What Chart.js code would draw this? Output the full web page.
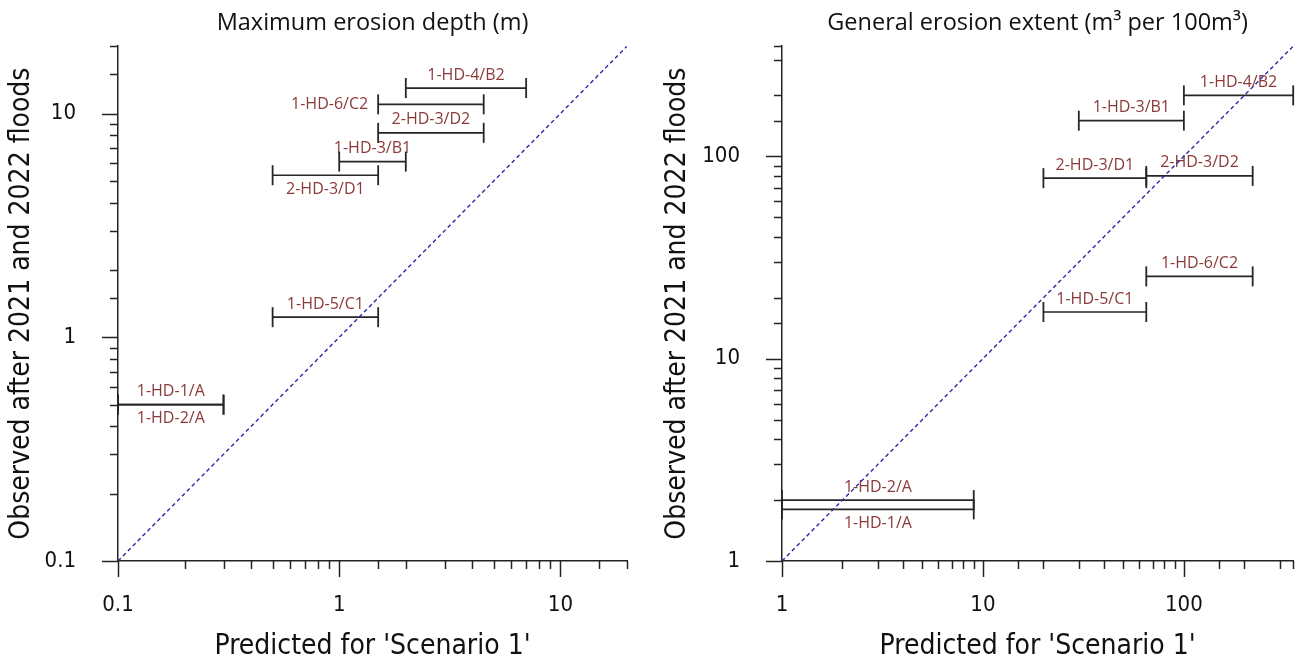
<!DOCTYPE html>
<html>
<head>
<meta charset="utf-8">
<script src="https://cdn.jsdelivr.net/npm/chart.js@4.4.1/dist/chart.umd.min.js"></script>
<style>
    body { margin: 0; background: #fff; width: 1295px; height: 662px; overflow: hidden; position: relative; }
    .panel { position: absolute; top: 0; height: 662px; }
    #leftPanel { left: 0; width: 648px; }
    #rightPanel { left: 648px; width: 657px; }
</style>
</head>
<body>
<div class="panel" id="leftPanel"><canvas id="depthChart"></canvas></div>
<div class="panel" id="rightPanel"><canvas id="extentChart"></canvas></div>
<script>
// Maximum erosion depth (m)
const depthSites = ['1-HD-4/B2', '1-HD-6/C2', '2-HD-3/D2', '1-HD-3/B1', '2-HD-3/D1', '1-HD-5/C1', '1-HD-1/A', '1-HD-2/A'];
const depthPredLow = [2, 1.5, 1.5, 1, 0.5, 0.5, 0.1, 0.1];
const depthPredHigh = [7, 4.5, 4.5, 2, 1.5, 1.5, 0.3, 0.3];
const depthObserved = [13, 11, 8.2, 6.1, 5.3, 1.23, 0.5, 0.5];
const depthRange = [0.1, 20];
const depthTickLabels = [0.1, 1, 10];

// General erosion extent (m3 per 100m3)
const extentSites = ['1-HD-4/B2', '1-HD-3/B1', '2-HD-3/D1', '2-HD-3/D2', '1-HD-6/C2', '1-HD-5/C1', '1-HD-2/A', '1-HD-1/A'];
const extentPredLow = [100, 30, 20, 65, 65, 20, 1, 1];
const extentPredHigh = [350, 100, 65, 220, 220, 65, 9, 9];
const extentObserved = [200, 150, 78, 80, 25.5, 17, 2, 1.8];
const extentRange = [1, 350];
const extentTickLabels = [1, 10, 100];

// where each site label sits relative to its bar (default: above)
const depthLabelSide = { '1-HD-6/C2': 'left', '2-HD-3/D1': 'below', '1-HD-2/A': 'below' };
const extentLabelSide = { '1-HD-1/A': 'below' };

const axisFont = "'DejaVu Sans Condensed', 'DejaVu Sans', sans-serif";
const textFont = "'Open Sans', sans-serif";
const labelColor = '#8b3a3a';
const barColor = '#262626';

// site labels, drawn before the datasets so the diagonal sits on top
const siteLabels = {
    id: 'siteLabels',
    beforeDatasetsDraw(chart, args, opts) {
        const { ctx, scales: { x, y } } = chart;
        ctx.save();
        ctx.font = '16px ' + textFont;
        ctx.fillStyle = labelColor;
        opts.sites.forEach((name, i) => {
            const x0 = x.getPixelForValue(opts.low[i]);
            const x1 = x.getPixelForValue(opts.high[i]);
            const yy = y.getPixelForValue(opts.obs[i]);
            const side = opts.side[name] || 'above';
            ctx.textBaseline = 'middle';
            if (side === 'left') {
                ctx.textAlign = 'right';
                ctx.fillText(name, x0 - 10, yy);
            } else {
                ctx.textAlign = 'center';
                ctx.fillText(name, (x0 + x1) / 2, side === 'above' ? yy - 13 : yy + 14);
            }
        });
        ctx.restore();
    }
};

// log axis ticks: long at decades, short in between, pointing outward
const logTicks = {
    id: 'logTicks',
    afterDraw(chart) {
        const { ctx, chartArea, scales: { x, y } } = chart;
        ctx.save();
        ctx.strokeStyle = '#222';
        ctx.lineWidth = 1.5;
        const isDecade = v => Math.abs(Math.log10(v) - Math.round(Math.log10(v))) < 1e-6;
        x.ticks.forEach(t => {
            const px = Math.round(x.getPixelForValue(t.value)) + 0.5;
            const len = isDecade(t.value) ? 16 : 8;
            ctx.beginPath();
            ctx.moveTo(px, chartArea.bottom);
            ctx.lineTo(px, chartArea.bottom + len);
            ctx.stroke();
        });
        y.ticks.forEach(t => {
            const py = Math.round(y.getPixelForValue(t.value)) + 0.5;
            const len = isDecade(t.value) ? 16 : 8;
            ctx.beginPath();
            ctx.moveTo(chartArea.left, py);
            ctx.lineTo(chartArea.left - len, py);
            ctx.stroke();
        });
        ctx.restore();
    }
};

function buildDatasets(sites, low, high, obs, range) {
    const sets = sites.map((name, i) => ({
        label: name,
        data: [{ x: low[i], y: obs[i] }, { x: high[i], y: obs[i] }],
        showLine: true,
        borderColor: barColor,
        borderWidth: 1.7,
        pointStyle: 'line',
        pointRotation: 90,
        pointRadius: 10,
        pointHoverRadius: 10,
        pointBorderColor: barColor,
        pointBorderWidth: 1.8,
        clip: false,
        order: 2
    }));
    sets.push({
        label: '1:1',
        data: [{ x: range[0], y: range[0] }, { x: range[1], y: range[1] }],
        showLine: true,
        borderColor: '#2a2aa8',
        borderWidth: 1.4,
        borderDash: [4, 3],
        pointRadius: 0,
        order: 1
    });
    return sets;
}

function makeChart(canvasId, cfg) {
    const ctx = document.getElementById(canvasId).getContext('2d');
    return new Chart(ctx, {
        type: 'scatter',
        data: { datasets: buildDatasets(cfg.sites, cfg.low, cfg.high, cfg.obs, cfg.range) },
        options: {
            responsive: true,
            maintainAspectRatio: false,
            animation: false,
            events: [],
            layout: { padding: { left: 0, right: cfg.padRight, top: 0, bottom: 0 } },
            plugins: {
                legend: { display: false },
                tooltip: { enabled: false },
                title: {
                    display: true,
                    text: cfg.title,
                    fullSize: false,
                    color: '#111',
                    font: { family: textFont, size: 23.5, weight: 'normal' },
                    padding: { top: 9, bottom: 9 }
                },
                siteLabels: { sites: cfg.sites, low: cfg.low, high: cfg.high, obs: cfg.obs, side: cfg.side }
            },
            scales: {
                x: {
                    type: 'logarithmic',
                    min: cfg.range[0],
                    max: cfg.range[1],
                    grid: { display: false },
                    border: { color: '#222', width: 1.5 },
                    ticks: {
                        autoSkip: false,
                        maxRotation: 0,
                        padding: 23,
                        color: '#111',
                        font: { family: axisFont, size: 22 },
                        callback: v => cfg.tickLabels.includes(v) ? String(v) : ''
                    },
                    title: {
                        display: true,
                        text: "Predicted for 'Scenario 1'",
                        color: '#111',
                        font: { family: axisFont, size: 28 },
                        padding: { top: 0, bottom: -2 }
                    },
                    afterFit: scale => {
                        scale.height = 101;
                        scale.paddingLeft = 0;
                        scale.paddingRight = 0;
                    }
                },
                y: {
                    type: 'logarithmic',
                    min: cfg.range[0],
                    max: cfg.range[1],
                    grid: { display: false },
                    border: { color: '#222', width: 1.5 },
                    ticks: {
                        autoSkip: false,
                        padding: 34,
                        color: '#111',
                        font: { family: axisFont, size: 22 },
                        callback: v => cfg.tickLabels.includes(v) ? String(v) : ''
                    },
                    title: {
                        display: true,
                        text: 'Observed after 2021 and 2022 floods',
                        color: '#111',
                        font: { family: axisFont, size: 28 },
                        padding: { top: cfg.yTitlePad, bottom: 0 }
                    },
                    afterFit: scale => {
                        scale.width = cfg.yWidth;
                        scale.paddingTop = 0;
                        scale.paddingBottom = 0;
                    }
                }
            }
        },
        plugins: [siteLabels, logTicks]
    });
}

makeChart('depthChart', {
    sites: depthSites, low: depthPredLow, high: depthPredHigh, obs: depthObserved,
    range: depthRange, tickLabels: depthTickLabels, side: depthLabelSide,
    title: 'Maximum erosion depth (m)', yWidth: 118, yTitlePad: 5, padRight: 21
});

makeChart('extentChart', {
    sites: extentSites, low: extentPredLow, high: extentPredHigh, obs: extentObserved,
    range: extentRange, tickLabels: extentTickLabels, side: extentLabelSide,
    title: 'General erosion extent (m³ per 100m³)', yWidth: 134, yTitlePad: 13, padRight: 1
});
</script>
</body>
</html>
